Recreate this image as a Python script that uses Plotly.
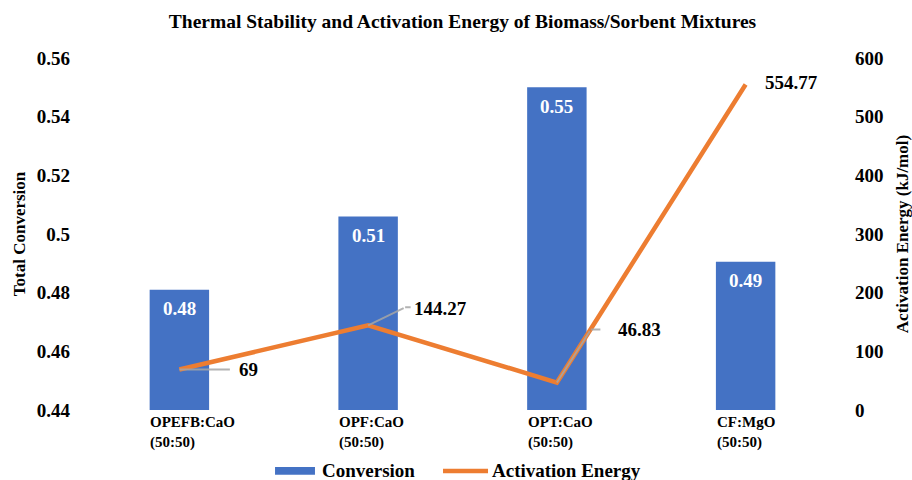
import plotly.graph_objects as go

# Biomass/sorbent mixtures and their measured properties
categories = ["OPEFB:CaO (50:50)", "OPF:CaO (50:50)", "OPT:CaO (50:50)", "CF:MgO (50:50)"]
category_labels = ["OPEFB:CaO<br>(50:50)", "OPF:CaO<br>(50:50)", "OPT:CaO<br>(50:50)", "CF:MgO<br>(50:50)"]
total_conversion = [0.481, 0.506, 0.550, 0.4905]
activation_energy = [69, 144.27, 46.83, 554.77]
activation_labels = ["69", "144.27", "46.83", "554.77"]
series_names = ["Conversion", "Activation Energy"]

left_ticks = [0.44, 0.46, 0.48, 0.50, 0.52, 0.54, 0.56]
left_tick_text = ["0.44", "0.46", "0.48", "0.5", "0.52", "0.54", "0.56"]
right_ticks = [0, 100, 200, 300, 400, 500, 600]

BLUE = "#4472C4"
ORANGE = "#ED7D31"
LEADER = "rgba(166,166,166,0.85)"
SERIF = "Liberation Serif"

fig = go.Figure()

fig.add_trace(go.Bar(
    x=categories, y=total_conversion, name=series_names[0],
    marker=dict(color=BLUE, line=dict(width=0)),
    width=0.315,
    showlegend=False,
    hoverinfo="skip",
))

fig.add_trace(go.Scatter(
    x=categories, y=activation_energy, yaxis="y2", name=series_names[1],
    mode="lines", line=dict(color=ORANGE, width=4.5),
    showlegend=False, hoverinfo="skip",
))

annotations = []

# white value labels just inside the top of each bar
for cat, val in zip(categories, total_conversion):
    annotations.append(dict(x=cat, y=val, xref="x", yref="y", text=f"{val:.2f}",
                            showarrow=False, yanchor="middle", yshift=-19,
                            font=dict(family=SERIF, size=19, color="white", weight="bold")))

# activation-energy labels: text offset and leader polyline, in pixels (y down)
label_font = dict(family=SERIF, size=19, color="black", weight="bold")
text_offsets = [(69, 0), (72, -17), (83, -53), (46, -2)]
leader_paths = [
    [(0, 0), (52, 0)],
    [(0, 0), (37, -18), (44, -18)],
    [(0, 0), (34, -53), (45, -53)],
    [],
]
for cat, val, txt, toff, path in zip(categories, activation_energy, activation_labels,
                                     text_offsets, leader_paths):
    for (x0, y0), (x1, y1) in zip(path[:-1], path[1:]):
        annotations.append(dict(x=cat, y=val, xref="x", yref="y2", text="",
                                xshift=x0, yshift=-y0,
                                showarrow=True, arrowhead=0, arrowwidth=2,
                                arrowcolor=LEADER, ax=x1 - x0, ay=y1 - y0))
    annotations.append(dict(x=cat, y=val, xref="x", yref="y2", text=txt,
                            showarrow=False, xshift=toff[0], yshift=-toff[1],
                            font=label_font))

# left-aligned two-line category labels under each bar
for cat, lab in zip(categories, category_labels):
    annotations.append(dict(x=cat, y=0, xref="x", yref="paper", text=lab,
                            showarrow=False, xanchor="left", yanchor="top",
                            align="left", xshift=-31, yshift=-2,
                            font=dict(family=SERIF, size=15, color="black", weight="bold")))

# bottom legend: wide swatches followed by bold series names
LEG_Y = -0.173
legend_font = dict(family=SERIF, size=19, color="black", weight="bold")
shapes = [
    dict(type="rect", xref="paper", yref="paper", x0=0.2517, x1=0.3046,
         y0=LEG_Y - 0.011, y1=LEG_Y + 0.011, fillcolor=BLUE, line=dict(width=0)),
    dict(type="line", xref="paper", yref="paper", x0=0.4742, x1=0.5338,
         y0=LEG_Y, y1=LEG_Y, line=dict(color=ORANGE, width=4.5)),
]
for name, lx in zip(series_names, [0.3113, 0.5364]):
    annotations.append(dict(x=lx, y=LEG_Y, xref="paper", yref="paper", text=name,
                            showarrow=False, xanchor="left", yanchor="middle",
                            font=legend_font))

fig.update_layout(
    width=912, height=480,
    margin=dict(l=85, r=72, t=58, b=70),
    paper_bgcolor="white", plot_bgcolor="white",
    font=dict(family=SERIF, color="black"),
    showlegend=False,
    title=dict(text="Thermal Stability and Activation Energy of Biomass/Sorbent Mixtures",
               x=0.5, xref="paper", xanchor="center", y=0.955, yanchor="middle",
               font=dict(family=SERIF, size=19.5, color="black", weight="bold")),
    xaxis=dict(showticklabels=False, showgrid=False, zeroline=False, showline=False,
               ticks="", automargin=False),
    yaxis=dict(range=[0.44, 0.56], tickvals=left_ticks, ticktext=left_tick_text,
               showgrid=False, zeroline=False, showline=False, ticks="",
               ticklabelstandoff=14, automargin=False,
               tickfont=dict(family=SERIF, size=19, color="black", weight="bold"),
               title=dict(text="Total Conversion", standoff=6,
                          font=dict(family=SERIF, size=17, color="black", weight="bold"))),
    yaxis2=dict(range=[0, 600], tickvals=right_ticks, overlaying="y", side="right",
                showgrid=False, zeroline=False, showline=False, ticks="",
                ticklabelstandoff=14, automargin=False,
                tickfont=dict(family=SERIF, size=19, color="black", weight="bold"),
                title=dict(text="Activation Energy (kJ/mol)", standoff=20,
                           font=dict(family=SERIF, size=17, color="black", weight="bold"))),
    annotations=annotations,
    shapes=shapes,
    bargap=0.5,
)

fig.write_html("out.html")
